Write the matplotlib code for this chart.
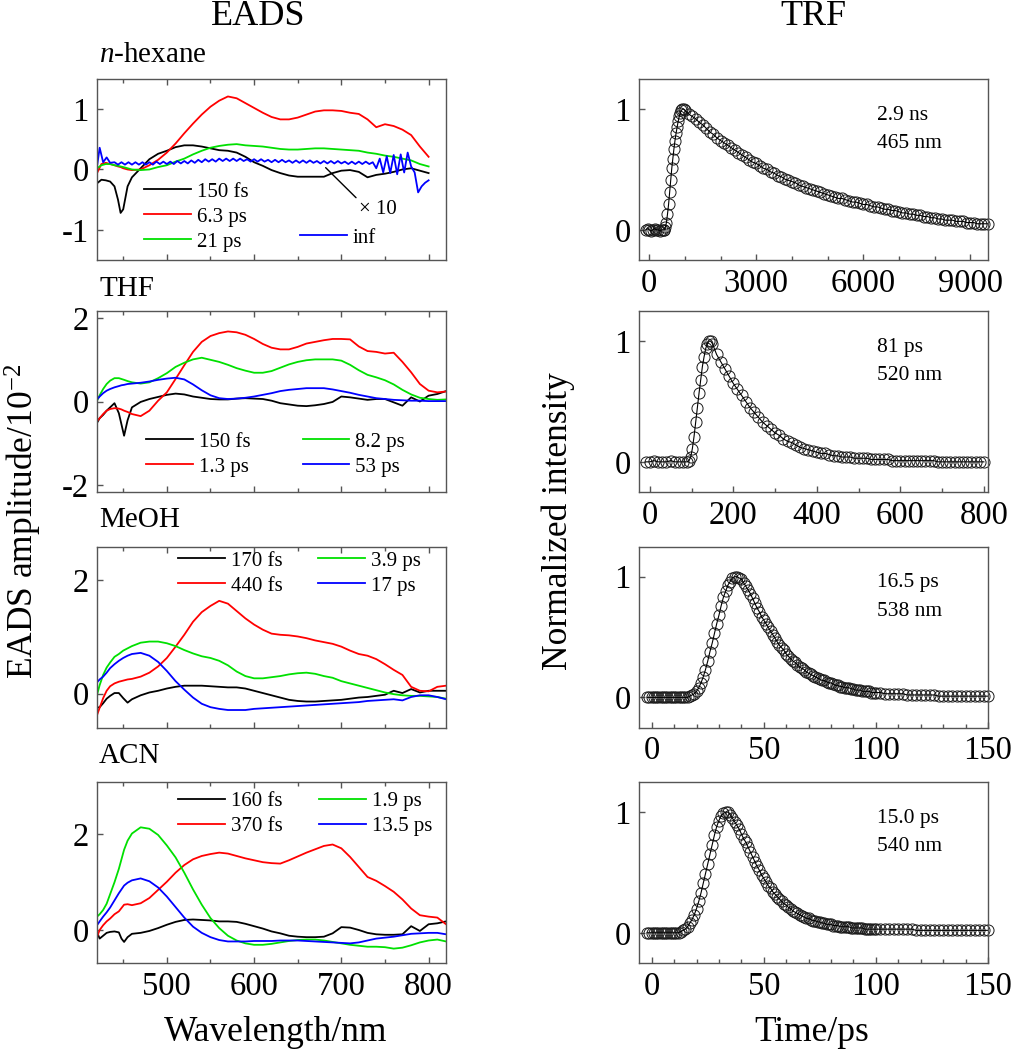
import numpy as np
import matplotlib.pyplot as plt
from matplotlib.ticker import MultipleLocator

plt.rcParams['font.family'] = ['Liberation Serif', 'DejaVu Serif']
plt.rcParams['mathtext.fontset'] = 'custom'
plt.rcParams['mathtext.rm'] = 'Liberation Serif'
plt.rcParams['mathtext.it'] = 'Liberation Serif:italic'
plt.rcParams['axes.unicode_minus'] = False

# ---------------- EADS data (amplitude / 1e-2) ----------------
# n-hexane
hex_wl = [420, 425, 430, 435, 440, 444, 447, 450, 455, 460] + list(range(470, 810, 10))
hex_150fs = [-0.23, -0.17, -0.18, -0.20, -0.28, -0.50, -0.72, -0.66, -0.28, -0.13,
             0.02, 0.17, 0.26, 0.31, 0.37, 0.40, 0.40, 0.38, 0.35, 0.32,
             0.31, 0.28, 0.21, 0.12, 0.06, -0.01, -0.06, -0.10, -0.12, -0.12,
             -0.12, -0.12, -0.06, -0.02, -0.01, -0.04, -0.13, -0.09, -0.07, -0.04,
             0.00, 0.02, -0.02, -0.06]
hex_6p3ps = [-0.06, 0.09, 0.11, 0.09, 0.07, 0.05, 0.04, 0.02, 0.00, -0.01,
             0.00, 0.07, 0.16, 0.28, 0.43, 0.60, 0.76, 0.91, 1.04, 1.14,
             1.21, 1.18, 1.10, 1.02, 0.94, 0.87, 0.83, 0.83, 0.86, 0.91,
             0.96, 0.98, 0.98, 0.97, 0.94, 0.92, 0.83, 0.70, 0.75, 0.72,
             0.66, 0.57, 0.38, 0.21]
hex_21ps = [0.02, 0.07, 0.09, 0.09, 0.07, 0.06, 0.05, 0.04, 0.02, 0.00,
            -0.01, 0.00, 0.04, 0.07, 0.13, 0.18, 0.25, 0.31, 0.36, 0.39,
            0.41, 0.42, 0.40, 0.39, 0.38, 0.36, 0.34, 0.33, 0.33, 0.34,
            0.35, 0.35, 0.34, 0.33, 0.32, 0.31, 0.28, 0.26, 0.23, 0.21,
            0.18, 0.15, 0.09, 0.05]
hex_inf_wl = [420, 423, 427, 431, 435] + list(range(440, 804, 4))
hex_inf = [0.05, 0.36, 0.12, 0.20, 0.11,
           0.12, 0.08, 0.12, 0.08, 0.12, 0.08, 0.12, 0.08, 0.12, 0.08,
           0.12, 0.08, 0.13, 0.09, 0.13, 0.09, 0.13, 0.09, 0.14, 0.10,
           0.14, 0.10, 0.15, 0.11, 0.16, 0.12, 0.17, 0.13, 0.17, 0.13,
           0.18, 0.14, 0.18, 0.14, 0.18, 0.14, 0.18, 0.14, 0.17, 0.13,
           0.17, 0.13, 0.17, 0.13, 0.16, 0.12, 0.16, 0.12, 0.16, 0.12,
           0.15, 0.11, 0.15, 0.11, 0.15, 0.11, 0.15, 0.11, 0.14, 0.10,
           0.14, 0.10, 0.14, 0.10, 0.14, 0.10, 0.13, 0.09, 0.13, 0.09,
           0.13, 0.09, 0.13, 0.09, 0.12,
           0.02, 0.18, -0.05, 0.22, -0.06, 0.24, -0.08, 0.25, -0.05, 0.28,
           0.05, -0.05, -0.38, -0.28, -0.22, -0.18]

# THF
thf_wl = [420, 423, 427, 431, 435, 440, 445, 448, 451, 455, 460] + list(range(470, 830, 10))
thf_150fs = [-0.51, -0.40, -0.32, -0.22, -0.14, -0.04, -0.28, -0.55, -0.82, -0.45, -0.14,
             -0.01, 0.06, 0.11, 0.16, 0.19, 0.17, 0.12, 0.09, 0.06, 0.05,
             0.05, 0.07, 0.08, 0.07, 0.06, 0.02, -0.04, -0.07, -0.10, -0.11,
             -0.09, -0.06, -0.01, 0.12, 0.10, 0.07, 0.04, 0.06, 0.06, -0.02,
             -0.10, 0.10, 0.00, 0.14, 0.18, 0.25]
thf_1p3ps = [-0.47, -0.40, -0.30, -0.22, -0.18, -0.16, -0.17, -0.19, -0.22, -0.25, -0.30,
             -0.35, -0.22, 0.02, 0.22, 0.54, 0.87, 1.19, 1.43, 1.57, 1.64,
             1.68, 1.66, 1.60, 1.50, 1.38, 1.29, 1.25, 1.25, 1.31, 1.39,
             1.43, 1.47, 1.50, 1.50, 1.49, 1.32, 1.21, 1.19, 1.15, 1.17,
             0.95, 0.70, 0.42, 0.26, 0.22, 0.24]
thf_8p2ps = [0.02, 0.15, 0.30, 0.42, 0.50, 0.56, 0.56, 0.54, 0.52, 0.49, 0.46,
             0.43, 0.46, 0.56, 0.68, 0.83, 0.93, 1.01, 1.05, 1.00, 0.95,
             0.88, 0.80, 0.74, 0.69, 0.69, 0.73, 0.81, 0.89, 0.95, 0.99,
             1.01, 1.01, 1.01, 0.98, 0.88, 0.75, 0.64, 0.58, 0.51, 0.41,
             0.28, 0.17, 0.09, 0.06, 0.04, 0.05]
thf_53ps = [0.05, 0.12, 0.20, 0.26, 0.30, 0.34, 0.37, 0.39, 0.40, 0.42, 0.43,
            0.45, 0.48, 0.52, 0.55, 0.57, 0.53, 0.41, 0.27, 0.15, 0.08,
            0.06, 0.07, 0.09, 0.12, 0.16, 0.20, 0.25, 0.28, 0.30, 0.32,
            0.32, 0.32, 0.29, 0.25, 0.21, 0.16, 0.12, 0.08, 0.06, 0.04,
            0.03, 0.02, 0.02, 0.01, 0.01, 0.01]

# MeOH
meoh_wl = [420, 423, 427, 431, 435, 440, 445, 450, 455, 460] + list(range(470, 830, 10))
meoh_170fs = [-0.25, -0.24, -0.17, -0.09, -0.04, 0.01, 0.01, -0.08, -0.16, -0.10,
              -0.03, 0.02, 0.05, 0.09, 0.12, 0.14, 0.14, 0.14, 0.13, 0.12,
              0.11, 0.11, 0.09, 0.05, 0.01, -0.03, -0.07, -0.11, -0.13, -0.14,
              -0.14, -0.13, -0.12, -0.11, -0.09, -0.07, -0.06, -0.04, -0.02, 0.05,
              0.01, 0.08, 0.02, 0.05, 0.05, 0.05]
meoh_440fs = [-0.38, -0.25, -0.08, 0.05, 0.13, 0.18, 0.21, 0.23, 0.25, 0.26,
              0.30, 0.37, 0.48, 0.63, 0.83, 1.04, 1.27, 1.44, 1.55, 1.64,
              1.59, 1.46, 1.33, 1.22, 1.13, 1.06, 1.04, 1.03, 1.01, 0.98,
              0.94, 0.91, 0.88, 0.83, 0.76, 0.70, 0.67, 0.61, 0.52, 0.42,
              0.33, 0.12, 0.05, 0.04, 0.12, 0.14]
meoh_3p9ps = [-0.02, 0.15, 0.33, 0.46, 0.55, 0.65, 0.70, 0.76, 0.80, 0.84,
              0.90, 0.92, 0.92, 0.89, 0.84, 0.77, 0.71, 0.66, 0.63, 0.58,
              0.50, 0.39, 0.31, 0.27, 0.27, 0.29, 0.31, 0.34, 0.36, 0.37,
              0.35, 0.31, 0.28, 0.22, 0.18, 0.14, 0.10, 0.06, 0.02, -0.01,
              -0.03, -0.04, -0.04, -0.05, -0.06, -0.09]
meoh_17ps = [0.20, 0.25, 0.30, 0.37, 0.45, 0.52, 0.58, 0.63, 0.67, 0.70,
             0.72, 0.67, 0.56, 0.40, 0.22, 0.07, -0.07, -0.18, -0.24, -0.27,
             -0.29, -0.29, -0.29, -0.27, -0.26, -0.25, -0.24, -0.23, -0.22, -0.21,
             -0.20, -0.19, -0.18, -0.17, -0.16, -0.15, -0.13, -0.12, -0.11, -0.10,
             -0.12, -0.06, -0.03, -0.03, -0.06, -0.10]

# ACN
acn_wl = [420, 423, 427, 431, 435, 440, 445, 448, 451, 455, 460] + list(range(470, 830, 10))
acn_160fs = [-0.05, -0.18, -0.12, -0.06, -0.04, -0.03, -0.05, -0.18, -0.25, -0.15, -0.08,
             -0.06, -0.02, 0.04, 0.11, 0.17, 0.21, 0.22, 0.21, 0.20, 0.18,
             0.18, 0.17, 0.13, 0.08, 0.03, -0.03, -0.07, -0.12, -0.14, -0.15,
             -0.15, -0.14, -0.07, 0.06, 0.05, 0.00, -0.06, -0.09, -0.10, -0.10,
             -0.09, 0.08, -0.02, 0.12, 0.14, 0.18]
acn_370fs = [-0.14, 0.00, 0.10, 0.18, 0.24, 0.33, 0.39, 0.46, 0.53, 0.54, 0.52,
             0.56, 0.67, 0.84, 1.01, 1.20, 1.36, 1.48, 1.55, 1.59, 1.62,
             1.60, 1.55, 1.50, 1.46, 1.42, 1.40, 1.39, 1.46, 1.54, 1.62,
             1.69, 1.76, 1.79, 1.71, 1.53, 1.32, 1.11, 1.03, 0.92, 0.80,
             0.64, 0.45, 0.31, 0.28, 0.26, 0.12]
acn_1p9ps = [0.28, 0.33, 0.42, 0.55, 0.75, 1.00, 1.28, 1.48, 1.68, 1.87, 2.02,
             2.15, 2.12, 1.99, 1.77, 1.52, 1.20, 0.85, 0.53, 0.25, 0.04,
             -0.12, -0.22, -0.28, -0.31, -0.31, -0.29, -0.26, -0.23, -0.21, -0.20,
             -0.20, -0.22, -0.25, -0.28, -0.31, -0.33, -0.35, -0.35, -0.36, -0.39,
             -0.37, -0.32, -0.26, -0.22, -0.20, -0.24]
acn_13p5ps = [0.10, 0.18, 0.28, 0.37, 0.47, 0.62, 0.77, 0.85, 0.93, 0.99, 1.04,
              1.08, 1.02, 0.89, 0.70, 0.48, 0.26, 0.07, -0.06, -0.15, -0.21,
              -0.24, -0.24, -0.24, -0.23, -0.23, -0.23, -0.22, -0.22, -0.22, -0.23,
              -0.24, -0.25, -0.26, -0.27, -0.28, -0.26, -0.22, -0.18, -0.16, -0.14,
              -0.11, -0.08, -0.07, -0.06, -0.06, -0.09]

# ---------------- TRF data (normalized) ----------------
hex_t = list(range(-100, 420, 50)) + list(range(420, 990, 30)) + list(range(1000, 9600, 100))
hex_trf = [0.00, 0.01, 0.00, -0.01, 0.00, 0.01, 0.00, 0.00, -0.01, 0.00, 0.00,
           0.00, 0.02, 0.06, 0.13, 0.21, 0.31, 0.41, 0.51, 0.59, 0.67,
           0.74, 0.80, 0.85, 0.90, 0.94, 0.97, 0.99, 1.00, 1.00,
           0.99, 0.96, 0.94, 0.92, 0.89, 0.87, 0.84, 0.81, 0.79, 0.76,
           0.74, 0.72, 0.70, 0.68, 0.66, 0.64, 0.62, 0.60, 0.58, 0.56,
           0.55, 0.53, 0.51, 0.50, 0.48, 0.47, 0.45, 0.44, 0.42, 0.41,
           0.40, 0.39, 0.37, 0.36, 0.35, 0.34, 0.33, 0.32, 0.31, 0.30,
           0.29, 0.28, 0.27, 0.26, 0.26, 0.25, 0.24, 0.23, 0.23, 0.22,
           0.21, 0.21, 0.20, 0.19, 0.19, 0.18, 0.17, 0.17, 0.16, 0.16,
           0.15, 0.14, 0.14, 0.13, 0.13, 0.12, 0.12, 0.11, 0.11, 0.10,
           0.10, 0.09, 0.09, 0.08, 0.08, 0.08, 0.07, 0.07, 0.07, 0.06,
           0.06, 0.06, 0.05, 0.05, 0.05, 0.05]

thf_t = list(range(-10, 100, 10)) + list(range(94, 150, 4)) + list(range(150, 810, 10))
thf_trf = [0.00, 0.00, 0.01, 0.00, 0.00, 0.00, 0.01, 0.00, 0.00, 0.00, 0.00,
           0.01, 0.04, 0.11, 0.21, 0.33, 0.45, 0.57, 0.68, 0.79, 0.87, 0.94, 0.98, 1.00, 1.00,
           0.98, 0.89, 0.83, 0.77, 0.71, 0.65, 0.60, 0.55, 0.50, 0.45,
           0.41, 0.37, 0.33, 0.30, 0.27, 0.24, 0.22, 0.19, 0.17, 0.16,
           0.14, 0.12, 0.11, 0.10, 0.09, 0.08, 0.07, 0.07, 0.06, 0.05,
           0.05, 0.04, 0.04, 0.04, 0.03, 0.03, 0.03, 0.03, 0.02, 0.02,
           0.02, 0.02, 0.02, 0.01, 0.01, 0.01, 0.01, 0.01, 0.01, 0.01,
           0.01, 0.01, 0.01, 0.01, 0.00, 0.00, 0.00, 0.00, 0.00, 0.00,
           0.00, 0.00, 0.00, 0.00, 0.00, 0.00]

meoh_t = list(range(-2, 101)) + list(range(102, 151, 2))
meoh_trf = [0.00] * 19 + [
    0.01, 0.02, 0.03, 0.05, 0.08, 0.12, 0.17, 0.23, 0.30, 0.38,
    0.45, 0.53, 0.61, 0.68, 0.76, 0.83, 0.88, 0.93, 0.96, 0.99,
    1.00, 1.00, 0.99, 0.98, 0.95, 0.92, 0.89, 0.86, 0.82, 0.78,
    0.74, 0.71, 0.67, 0.64, 0.61, 0.58, 0.55, 0.52, 0.49, 0.46,
    0.43, 0.41, 0.39, 0.36, 0.34, 0.32, 0.30, 0.29, 0.27, 0.25,
    0.24, 0.23, 0.21, 0.20, 0.19, 0.18, 0.17, 0.16, 0.15, 0.14,
    0.14, 0.13, 0.12, 0.12, 0.11, 0.10, 0.10, 0.09, 0.09, 0.08,
    0.08, 0.08, 0.07, 0.07, 0.06, 0.06, 0.06, 0.05, 0.05, 0.05,
    0.05, 0.04, 0.04, 0.04,
    0.04, 0.03, 0.03, 0.03, 0.03, 0.03, 0.02, 0.02, 0.02, 0.02,
    0.02, 0.02, 0.02, 0.01, 0.01, 0.01, 0.01, 0.01, 0.01, 0.01,
    0.01, 0.01, 0.01, 0.01, 0.01]

acn_t = list(range(-2, 101)) + list(range(102, 151, 2))
acn_trf = [0.00] * 15 + [
    0.01, 0.02, 0.03, 0.05, 0.08, 0.11, 0.15, 0.20, 0.26, 0.33,
    0.41, 0.49, 0.57, 0.65, 0.73, 0.81, 0.88, 0.93, 0.97, 0.99,
    1.00, 1.00, 0.98, 0.95, 0.92, 0.89, 0.86, 0.82, 0.78, 0.75,
    0.71, 0.67, 0.63, 0.59, 0.55, 0.52, 0.48, 0.45, 0.42, 0.39,
    0.37, 0.34, 0.32, 0.30, 0.28, 0.26, 0.24, 0.23, 0.21, 0.20,
    0.18, 0.17, 0.16, 0.15, 0.14, 0.13, 0.12, 0.12, 0.11, 0.10,
    0.10, 0.09, 0.09, 0.08, 0.08, 0.07, 0.07, 0.07, 0.06, 0.06,
    0.06, 0.05, 0.05, 0.05, 0.05, 0.05, 0.04, 0.04, 0.04, 0.04,
    0.04, 0.04, 0.03, 0.03, 0.03, 0.03, 0.03, 0.03,
    0.03, 0.03, 0.03, 0.03, 0.03, 0.03, 0.03, 0.03,
    0.02, 0.02, 0.02, 0.02, 0.02, 0.02, 0.02, 0.02, 0.02,
    0.02, 0.02, 0.02, 0.02, 0.02, 0.02, 0.02, 0.02]

# ---------------- figure ----------------
GRAY = '#555555'
C_BLK, C_RED, C_GRN, C_BLU = '#000000', '#ff0000', '#00e000', '#0000ff'
TICK_FS, LEG_FS = 23.5, 15

fig = plt.figure(figsize=(10.14, 10.5), dpi=100)
rows = [0.7524, 0.5314, 0.3071, 0.0829]
H = 0.1724
eads_axes = [fig.add_axes([0.0957, b, 0.3442, H]) for b in rows]
trf_axes = [fig.add_axes([0.6305, b, 0.3439, H]) for b in rows]


def style(ax, top):
    for s in ax.spines.values():
        s.set_color(GRAY)
        s.set_linewidth(1.0)
    ax.tick_params(which='both', direction='in', color=GRAY, width=1.0,
                   labelsize=TICK_FS, pad=6, top=top, right=False)
    ax.tick_params(which='major', length=4.5)
    ax.tick_params(which='minor', length=3)


def leg(ax, handles, labels, x, y, ncol=1, colsp=2.0):
    return ax.legend(handles, labels, loc='upper left', bbox_to_anchor=(x, y),
                     ncol=ncol, frameon=False, fontsize=LEG_FS, handlelength=2.25,
                     handletextpad=0.29, labelspacing=0.26, columnspacing=colsp,
                     borderpad=0, borderaxespad=0)


# EADS panels
eads = [
    (hex_wl, [hex_150fs, hex_6p3ps, hex_21ps], ['150 fs', '6.3 ps', '21 ps'], (-1.5, 1.5), [-1, 0, 1]),
    (thf_wl, [thf_150fs, thf_1p3ps, thf_8p2ps, thf_53ps], ['150 fs', '1.3 ps', '8.2 ps', '53 ps'], (-2.17, 2.17), [-2, 0, 2]),
    (meoh_wl, [meoh_170fs, meoh_440fs, meoh_3p9ps, meoh_17ps], ['170 fs', '440 fs', '3.9 ps', '17 ps'], (-0.6, 2.6), [0, 2]),
    (acn_wl, [acn_160fs, acn_370fs, acn_1p9ps, acn_13p5ps], ['160 fs', '370 fs', '1.9 ps', '13.5 ps'], (-0.69, 3.1), [0, 2]),
]
colors = [C_BLK, C_RED, C_GRN, C_BLU]
for i, (ax, (wl, ys, labs, ylim, yt)) in enumerate(zip(eads_axes, eads)):
    for y, c in zip(ys, colors):
        ax.plot(wl, y, color=c, lw=1.3)
    if i == 0:
        ax.plot(hex_inf_wl, hex_inf, color=C_BLU, lw=1.3)
    ax.set_xlim(420, 820)
    ax.set_ylim(*ylim)
    ax.set_yticks(yt)
    ax.xaxis.set_major_locator(MultipleLocator(100))
    ax.xaxis.set_minor_locator(MultipleLocator(50))
    style(ax, top=True)
    if i < 3:
        ax.tick_params(labelbottom=False)

ax = eads_axes[0]
l1 = leg(ax, ax.lines[:3], ['150 fs', '6.3 ps', '21 ps'], 0.135, 0.43)
ax.add_artist(l1)
leg(ax, [ax.lines[3]], ['inf'], 0.582, 0.176)
ax.annotate('\u00d7 10', xy=(682, 0.03), xytext=(720, -0.67), fontsize=LEG_FS, va='center',
            arrowprops=dict(arrowstyle='-', color='k', lw=1.0, shrinkA=0, shrinkB=0, relpos=(0.05, 0.9)))

leg(eads_axes[1], eads_axes[1].lines, eads[1][2], 0.14, 0.331, ncol=2, colsp=2.5)
leg(eads_axes[2], eads_axes[2].lines, eads[2][2], 0.233, 0.975, ncol=2, colsp=1.7)
leg(eads_axes[3], eads_axes[3].lines, eads[3][2], 0.232, 0.945, ncol=2, colsp=1.75)

eads_axes[3].set_xticks([500, 600, 700, 800])

# TRF panels
trf = [
    (hex_t, hex_trf, (-280, 9500), 3000, 1000, '2.9 ns', '465 nm'),
    (thf_t, thf_trf, (-25, 810), 200, 100, '81 ps', '520 nm'),
    (meoh_t, meoh_trf, (-5.5, 150), 50, 10, '16.5 ps', '538 nm'),
    (acn_t, acn_trf, (-5.5, 150), 50, 10, '15.0 ps', '540 nm'),
]
for ax, (t, y, xlim, maj, mnr, tau, lam) in zip(trf_axes, trf):
    ax.plot(t, y, 'o', ms=8, mfc='none', mec='#1a1a1a', mew=0.7, clip_on=False)
    ax.plot(t, y, '-', color='k', lw=0.8)
    ax.set_xlim(*xlim)
    ax.set_ylim(-0.25, 1.25)
    ax.set_yticks([0, 1])
    ax.xaxis.set_major_locator(MultipleLocator(maj))
    ax.xaxis.set_minor_locator(MultipleLocator(mnr))
    style(ax, top=False)
    ax.text(0.682, 0.80, tau, transform=ax.transAxes, fontsize=15.5, va='center')
    ax.text(0.682, 0.643, lam, transform=ax.transAxes, fontsize=15.5, va='center')

# titles and labels
W, Hpx = 1014.0, 1050.0
fig.text(258 / W, 1 - 25 / Hpx, 'EADS', fontsize=26, ha='center', va='baseline')
fig.text(813 / W, 1 - 25 / Hpx, 'TRF', fontsize=26, ha='center', va='baseline')
fig.text(99 / W, 1 - 62 / Hpx, r'$n$-hexane', fontsize=21, va='baseline')
fig.text(99 / W, 1 - 296 / Hpx, 'THF', fontsize=21, va='baseline')
fig.text(99 / W, 1 - 527 / Hpx, 'MeOH', fontsize=21, va='baseline')
fig.text(99 / W, 1 - 763 / Hpx, 'ACN', fontsize=21, va='baseline')
fig.text(276 / W, 1 - 1041 / Hpx, 'Wavelength/nm', fontsize=25.5, ha='center', va='baseline')
fig.text(812 / W, 1 - 1041 / Hpx, 'Time/ps', fontsize=25.5, ha='center', va='baseline')
fig.text(23 / W, 1 - 521 / Hpx, r'EADS amplitude/10$^{-2}$', fontsize=25.5, rotation=90,
         ha='center', va='center')
fig.text(558 / W, 1 - 521 / Hpx, 'Normalized intensity', fontsize=25.5, rotation=90,
         ha='center', va='center')

fig.savefig('out.png', dpi=100)
